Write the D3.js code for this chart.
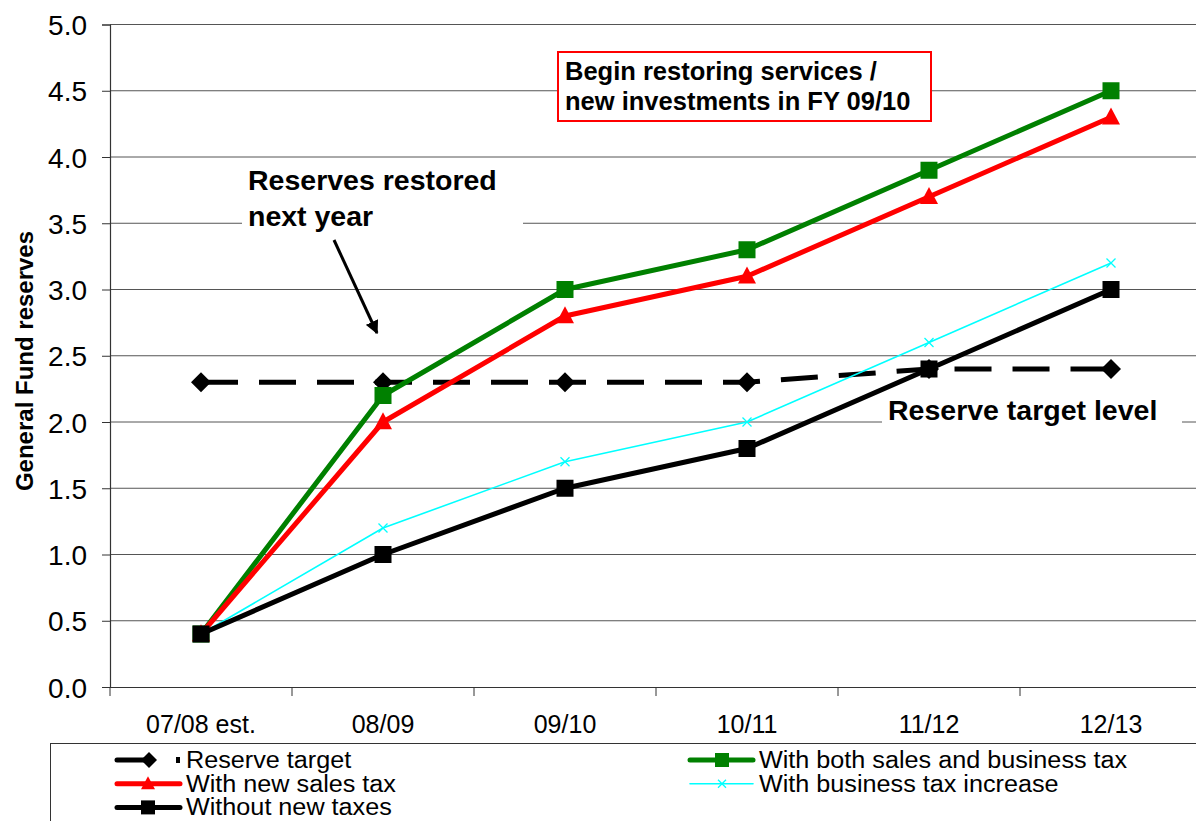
<!DOCTYPE html>
<html><head><meta charset="utf-8">
<script src="https://cdn.jsdelivr.net/npm/d3@7"></script>
<style>body{margin:0;background:#fff;} svg{display:block;font-family:"Liberation Sans",Arial,sans-serif;}</style>
</head><body>
<svg id="c" width="1196" height="821"></svg>
<script>
const categories = ["07/08 est.","08/09","09/10","10/11","11/12","12/13"];
const reserveTarget = [2.3,2.3,2.3,2.3,2.4,2.4];
const bothTaxes = [0.4,2.2,3.0,3.3,3.9,4.5];
const salesTax = [0.4,2.0,2.8,3.1,3.7,4.3];
const businessTax = [0.4,1.2,1.7,2.0,2.6,3.2];
const withoutTaxes = [0.4,1.0,1.5,1.8,2.4,3.0];
const yTicks = [0,0.5,1,1.5,2,2.5,3,3.5,4,4.5,5];

const svg = d3.select("#c");
const L=110, R=1202, T=24.5, B=687;
const x = d3.scaleBand().domain(categories).range([L,R]);
const y = d3.scaleLinear().domain([0,5]).range([B,T]);
const cx = c => x(c)+x.bandwidth()/2;

// grid
svg.append("g").selectAll("line").data(yTicks.filter(d=>d>0)).join("line")
  .attr("x1",L).attr("x2",R).attr("y1",d=>y(d)).attr("y2",d=>y(d))
  .attr("stroke","#555").attr("stroke-width",1);

// axes
const ya = svg.append("g").attr("transform",`translate(${L},0)`)
  .call(d3.axisLeft(y).tickValues(yTicks).tickFormat(d3.format(".1f")).tickSize(8).tickPadding(15));
ya.select(".domain").attr("stroke","#333").attr("stroke-width",1.2);
ya.selectAll("line").attr("stroke","#333");
ya.selectAll("text").attr("font-size",28).attr("fill","#000").attr("font-family","Liberation Sans, Arial").attr("dy","0.36em");

const xa = svg.append("g").attr("transform",`translate(0,${B})`)
  .call(d3.axisBottom(x).tickSize(0).tickPadding(28));
xa.select(".domain").attr("stroke","#333").attr("stroke-width",1.2);
xa.selectAll("text").attr("font-size",25).attr("fill","#000").attr("font-family","Liberation Sans, Arial");
// x tick marks at band boundaries
svg.append("g").selectAll("line").data(d3.range(categories.length+1)).join("line")
  .attr("x1",i=>L+i*x.bandwidth()).attr("x2",i=>L+i*x.bandwidth())
  .attr("y1",B).attr("y2",B+9).attr("stroke","#333");

// y label
svg.append("text").attr("transform","translate(33,361) rotate(-90)")
  .attr("text-anchor","middle").attr("font-weight","bold").attr("font-size",24).text("General Fund reserves");

// annotation backgrounds
svg.append("rect").attr("x",242).attr("y",163).attr("width",281).attr("height",74).attr("fill","#fff");
svg.append("rect").attr("x",882).attr("y",392).attr("width",300).attr("height",40).attr("fill","#fff");

const line = d3.line().x((d,i)=>cx(categories[i])).y(d=>y(d));

function series(data,color,width,dash){
  svg.append("path").datum(data).attr("d",line).attr("fill","none")
    .attr("stroke",color).attr("stroke-width",width).attr("stroke-dasharray",dash||null)
    .attr("stroke-linejoin","round");
}
function markers(data,shape,color,size){
  const g = svg.append("g");
  data.forEach((d,i)=>{
    drawMarker(g,shape,cx(categories[i]),y(d),color,size);
  });
}
function drawMarker(g,shape,px,py,color,size){
  if(shape==="square"){
    g.append("rect").attr("x",px-size/2).attr("y",py-size/2).attr("width",size).attr("height",size).attr("fill",color);
  } else if(shape==="triangle"){
    const h=size*0.9;
    g.append("path").attr("d",`M${px},${py-h*0.6}L${px+size/2},${py+h*0.45}L${px-size/2},${py+h*0.45}Z`).attr("fill",color);
  } else if(shape==="x"){
    const s=size/2;
    g.append("path").attr("d",`M${px-s},${py-s}L${px+s},${py+s}M${px-s},${py+s}L${px+s},${py-s}`).attr("stroke",color).attr("stroke-width",1.3);
  } else if(shape==="diamond"){
    const s=size/2;
    g.append("path").attr("d",`M${px},${py-s}L${px+s},${py}L${px},${py+s}L${px-s},${py}Z`).attr("fill",color);
  }
}

series(reserveTarget,"#000",5,"37,21");
markers(reserveTarget,"diamond","#000",20);
series(bothTaxes,"#008000",5);
markers(bothTaxes,"square","#008000",17);
series(salesTax,"#ff0000",5);
markers(salesTax,"triangle","#ff0000",18);
series(businessTax,"#00ffff",1.6);
markers(businessTax,"x","#00ffff",9);
series(withoutTaxes,"#000",5);
markers(withoutTaxes,"square","#000",17);

// annotations
const a1 = svg.append("text").attr("font-weight","bold").attr("font-size",28.5).attr("fill","#000");
a1.append("tspan").attr("x",248).attr("y",190).text("Reserves restored");
a1.append("tspan").attr("x",248).attr("y",226).text("next year");
svg.append("defs").append("marker").attr("id","ah").attr("viewBox","0 0 10 10").attr("refX",9).attr("refY",5)
  .attr("markerWidth",4.5).attr("markerHeight",4.5).attr("orient","auto")
  .append("path").attr("d","M0,0L10,5L0,10Z").attr("fill","#000");
svg.append("line").attr("x1",334).attr("y1",240).attr("x2",377).attr("y2",333)
  .attr("stroke","#000").attr("stroke-width",3).attr("marker-end","url(#ah)");

svg.append("rect").attr("x",558).attr("y",52).attr("width",373).attr("height",69)
  .attr("fill","#fff").attr("stroke","#ff0000").attr("stroke-width",2);
const a2 = svg.append("text").attr("font-weight","bold").attr("font-size",25.5).attr("fill","#000");
a2.append("tspan").attr("x",565).attr("y",80).text("Begin restoring services /");
a2.append("tspan").attr("x",565).attr("y",110).text("new investments in FY 09/10");

svg.append("text").attr("x",888).attr("y",420).attr("font-weight","bold").attr("font-size",28.5).text("Reserve target level");

// legend
svg.append("rect").attr("x",50.5).attr("y",743.5).attr("width",1200).attr("height",100)
  .attr("fill","#fff").attr("stroke","#333").attr("stroke-width",1);
const lg = svg.append("g").attr("font-size",21).attr("font-family","Liberation Sans, Arial");
const legendItems = [
  {name:"Reserve target", col:0,row:0,color:"#000",w:5,shape:"diamond"},
  {name:"With both sales and business tax", col:1,row:0,color:"#008000",w:5,shape:"square"},
  {name:"With new sales tax", col:0,row:1,color:"#ff0000",w:5,shape:"triangle"},
  {name:"With business tax increase", col:1,row:1,color:"#00ffff",w:1.6,shape:"x"},
  {name:"Without new taxes", col:0,row:2,color:"#000",w:5,shape:"square"}
];
legendItems.forEach(it=>{
  const ly = 760 + it.row*23.7;
  const x0 = it.col===0?117:690, x1 = it.col===0?180:753;
  const mx = it.col===0?148:722;
  if(it.shape==="diamond"){
    lg.append("line").attr("x1",x0).attr("x2",152).attr("y1",ly).attr("y2",ly).attr("stroke",it.color).attr("stroke-width",it.w).attr("stroke-linecap","round");
    drawMarker(lg,"diamond",149,ly,"#000",16);
    lg.append("rect").attr("x",176).attr("y",ly-3).attr("width",4).attr("height",6).attr("fill","#000");
  } else {
    lg.append("line").attr("x1",x0).attr("x2",x1).attr("y1",ly).attr("y2",ly).attr("stroke",it.color).attr("stroke-width",it.w).attr("stroke-linecap","round");
    drawMarker(lg,it.shape,mx,ly,it.color,it.shape==="x"?8:14);
  }
  lg.append("text").attr("transform",`translate(${x1+6},${ly+8}) scale(1.2,1.1)`).text(it.name);
});
</script>
</body></html>
